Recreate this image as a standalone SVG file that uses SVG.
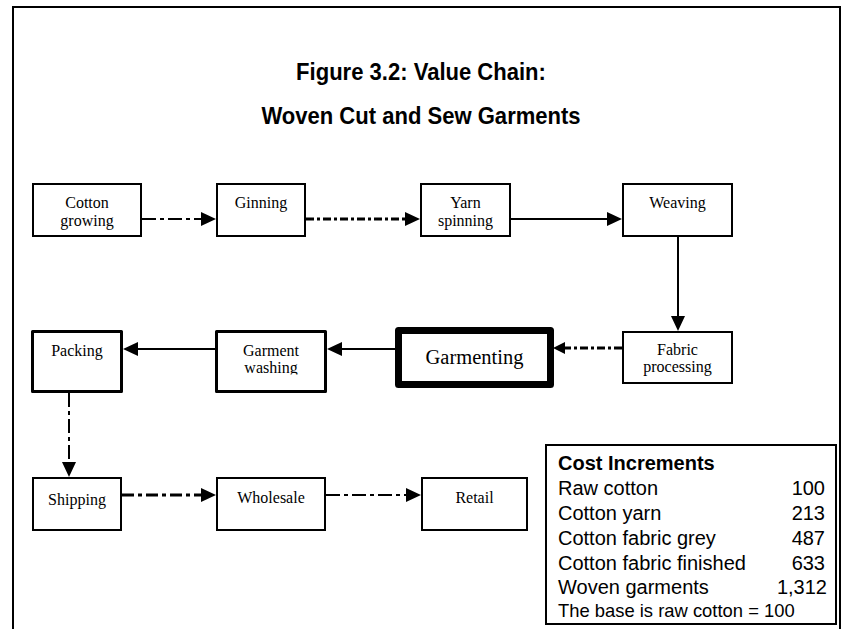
<svg xmlns="http://www.w3.org/2000/svg" width="842" height="629" viewBox="0 0 842 629">
  <style>
    .frame { fill: none; stroke: #000; stroke-width: 2; }
    .title { font-family: "Liberation Sans", Arial, sans-serif; font-weight: bold; font-size: 24.5px; fill: #000; text-anchor: middle; }
    .box { fill: #fff; stroke: #000; stroke-width: 2; }
    .box-bold { fill: #fff; stroke: #000; stroke-width: 3; stroke-linejoin: round; }
    .box-heavy { fill: #fff; stroke: #000; stroke-width: 7; stroke-linejoin: round; }
    .label { font-family: "Liberation Serif", "Times New Roman", serif; font-size: 16px; fill: #000; text-anchor: middle; }
    .label-big { font-family: "Liberation Serif", "Times New Roman", serif; font-size: 20.5px; fill: #000; text-anchor: middle; }
    .link { fill: none; stroke: #000; stroke-width: 2; }
    .solid { marker-end: url(#head); }
    .dashdot { stroke-dasharray: 14 4 4 4; marker-end: url(#head); }
    .dashdot-thick { stroke-width: 3; stroke-dasharray: 12 4 4 4; marker-end: url(#head); }
    .dashdotdot { stroke-width: 3; stroke-dasharray: 8 3 3 3; marker-end: url(#head); }
    .dashdotdot-small { stroke-width: 3; stroke-dasharray: 8 3 3 3; marker-end: url(#head-small); }
    .table { fill: #fff; stroke: #000; stroke-width: 2; }
    .cell { font-family: "Liberation Sans", Arial, sans-serif; font-size: 20px; fill: #000; }
    .cell-head { font-family: "Liberation Sans", Arial, sans-serif; font-size: 20px; font-weight: bold; fill: #000; }
    .cell-note { font-family: "Liberation Sans", Arial, sans-serif; font-size: 18.4px; fill: #000; }
    .num { text-anchor: end; }
  </style>
  <defs>
    <marker id="head" markerUnits="userSpaceOnUse" markerWidth="15" markerHeight="14" refX="9" refY="7" orient="auto">
      <path d="M0,0 L15,7 L0,14 z" fill="#000"/>
    </marker>
    <marker id="head-small" markerUnits="userSpaceOnUse" markerWidth="12" markerHeight="12" refX="6" refY="6" orient="auto">
      <path d="M0,0 L12,6 L0,12 z" fill="#000"/>
    </marker>
    <clipPath id="washing-clip">
      <rect x="218" y="333" width="106" height="41.5"/>
    </clipPath>
  </defs>

  <!-- page frame (open at the bottom) -->
  <path class="frame" d="M13,629 V7 H840 V629"/>

  <!-- heading, set in a slightly condensed bold face -->
  <g transform="translate(421 0) scale(0.9 1)">
    <text class="title" x="0" y="80">Figure 3.2: Value Chain:</text>
    <text class="title" x="0" y="124">Woven Cut and Sew Garments</text>
  </g>

  <!-- connectors -->
  <g id="connectors">
    <path class="link dashdot" d="M142,219 H210"/>
    <path class="link dashdotdot" d="M306,219 H414"/>
    <path class="link solid" d="M511,219 H616"/>
    <path class="link solid" d="M678,237 V325"/>
    <path class="link dashdotdot-small" d="M622,348 H559"/>
    <path class="link solid" d="M395,349 H333"/>
    <path class="link solid" d="M215,349 H129"/>
    <path class="link dashdot" d="M69,393 V471"/>
    <path class="link dashdot-thick" d="M122,495 H210"/>
    <path class="link dashdot" d="M326,495 H415"/>
  </g>

  <!-- row 1 -->
  <g id="cotton-growing">
    <rect class="box" x="33" y="184" width="108" height="52"/>
    <text class="label" x="87" y="208">Cotton</text>
    <text class="label" x="87" y="226">growing</text>
  </g>
  <g id="ginning">
    <rect class="box" x="217" y="184" width="88" height="52"/>
    <text class="label" x="261" y="208">Ginning</text>
  </g>
  <g id="yarn-spinning">
    <rect class="box" x="421" y="184" width="89" height="52"/>
    <text class="label" x="465.5" y="208">Yarn</text>
    <text class="label" x="465.5" y="226">spinning</text>
  </g>
  <g id="weaving">
    <rect class="box" x="623" y="184" width="109" height="52"/>
    <text class="label" x="677.5" y="208">Weaving</text>
  </g>

  <!-- row 2 -->
  <g id="fabric-processing">
    <rect class="box" x="623" y="332" width="109" height="51"/>
    <text class="label" x="677.5" y="355">Fabric</text>
    <text class="label" x="677.5" y="372">processing</text>
  </g>
  <g id="garmenting">
    <rect class="box-heavy" x="398.5" y="330.5" width="152" height="54"/>
    <text class="label-big" x="474.5" y="364">Garmenting</text>
  </g>
  <g id="garment-washing">
    <rect class="box-bold" x="216.5" y="331.5" width="109" height="60"/>
    <text class="label" x="271" y="356">Garment</text>
    <text class="label" x="271" y="373" clip-path="url(#washing-clip)">washing</text>
  </g>
  <g id="packing">
    <rect class="box-bold" x="32.5" y="331.5" width="89" height="60"/>
    <text class="label" x="77" y="356">Packing</text>
  </g>

  <!-- row 3 -->
  <g id="shipping">
    <rect class="box" x="33" y="478" width="88" height="52"/>
    <text class="label" x="77" y="505">Shipping</text>
  </g>
  <g id="wholesale">
    <rect class="box" x="217" y="478" width="108" height="52"/>
    <text class="label" x="271" y="503">Wholesale</text>
  </g>
  <g id="retail">
    <rect class="box" x="422" y="478" width="105" height="52"/>
    <text class="label" x="474.5" y="503">Retail</text>
  </g>

  <!-- cost table -->
  <g id="cost-increments">
    <rect class="table" x="546" y="445" width="290" height="179"/>
    <text class="cell-head" x="558" y="470">Cost Increments</text>
    <text class="cell" x="558" y="495">Raw cotton</text>
    <text class="cell num" x="825" y="495">100</text>
    <text class="cell" x="558" y="520">Cotton yarn</text>
    <text class="cell num" x="825" y="520">213</text>
    <text class="cell" x="558" y="545">Cotton fabric grey</text>
    <text class="cell num" x="825" y="545">487</text>
    <text class="cell" x="558" y="570">Cotton fabric finished</text>
    <text class="cell num" x="825" y="570">633</text>
    <text class="cell" x="558" y="594">Woven garments</text>
    <text class="cell num" x="827" y="594">1,312</text>
    <text class="cell-note" x="558" y="617">The base is raw cotton = 100</text>
  </g>
</svg>
